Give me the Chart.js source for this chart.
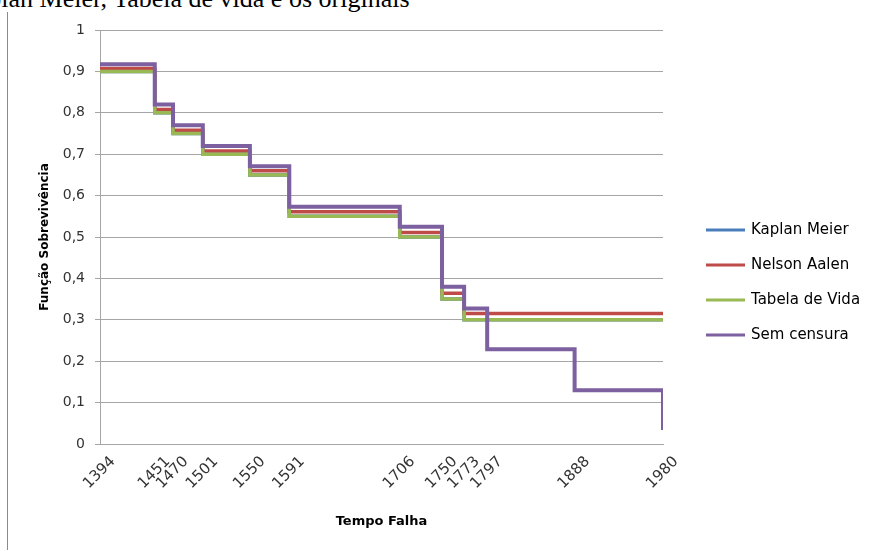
<!DOCTYPE html>
<html>
<head>
<meta charset="utf-8">
<script src="https://cdn.jsdelivr.net/npm/chart.js@4"></script>
<style>
  html, body { margin: 0; padding: 0; background: #fff; width: 871px; height: 550px; overflow: hidden; }
  #caption { position: absolute; left: -42px; top: -14px; font-family: "Liberation Serif", serif; font-size: 26px; line-height: 26px; white-space: nowrap; color: #000; }
  #frame { position: absolute; left: 7px; top: 12px; width: 1px; height: 538px; background: #8a8a8a; }
  #wrap { position: absolute; left: 0; top: 0; width: 871px; height: 550px; }
</style>
</head>
<body>
<div id="caption">Kaplan Meier, Tabela de vida e os originais</div>
<div id="frame"></div>
<div id="wrap"><canvas id="c" width="871" height="550"></canvas></div>
<script>
// Failure times (also used as the x-axis tick labels)
const failTimes = [1394, 1451, 1470, 1501, 1550, 1591, 1706, 1750, 1773, 1797, 1888, 1980];

// Estimators with censoring: times where the curve changes, last point closes the tail
const censTimes = [1394, 1451, 1470, 1501, 1550, 1591, 1706, 1750, 1773, 1980];
const kaplanMeier = [0.90, 0.80, 0.75, 0.70, 0.65, 0.55, 0.50, 0.35, 0.30, 0.30];
const nelsonAalen = [0.907, 0.808, 0.758, 0.708, 0.66, 0.561, 0.511, 0.364, 0.315, 0.315];
const tabelaVida  = [0.90, 0.80, 0.75, 0.70, 0.65, 0.55, 0.50, 0.35, 0.30, 0.30];

// Survival ignoring censoring
const semCensura = [0.917, 0.82, 0.77, 0.72, 0.671, 0.573, 0.525, 0.38, 0.327, 0.229, 0.13, 0.034];

const xTicks = failTimes;
const yTicks = [0, 0.1, 0.2, 0.3, 0.4, 0.5, 0.6, 0.7, 0.8, 0.9, 1];

function pairs(xs, ys) { return xs.map((x, i) => ({ x: x, y: ys[i] })); }

// Legend drawn to the right of the plot: a short coloured bar and the series name
const sideLegend = {
  id: 'sideLegend',
  afterDraw(chart, args, opts) {
    const ctx = chart.ctx;
    ctx.save();
    ctx.font = '15px "DejaVu Sans"';
    ctx.textBaseline = 'middle';
    ctx.textAlign = 'left';
    chart.data.datasets.forEach((ds, i) => {
      const y = opts.top + i * opts.step;
      ctx.fillStyle = ds.borderColor;
      ctx.fillRect(opts.x, y - 1.5, opts.barLength, 3);
      ctx.fillStyle = '#000';
      ctx.fillText(ds.label, opts.x + opts.barLength + 6, y);
    });
    ctx.restore();
  }
};

// Later series are painted over earlier ones (higher order = painted first)
new Chart(document.getElementById('c'), {
  type: 'line',
  data: {
    datasets: [
      { label: 'Kaplan Meier',   data: pairs(censTimes, kaplanMeier), borderColor: '#4A7EBB', backgroundColor: '#4A7EBB', borderWidth: 3.5, order: 4 },
      { label: 'Nelson Aalen',   data: pairs(censTimes, nelsonAalen), borderColor: '#BE4B48', backgroundColor: '#BE4B48', borderWidth: 3.5, order: 3 },
      { label: 'Tabela de Vida', data: pairs(censTimes, tabelaVida),  borderColor: '#98B954', backgroundColor: '#98B954', borderWidth: 3.5, order: 2 },
      { label: 'Sem censura',    data: pairs(failTimes, semCensura),  borderColor: '#7D60A0', backgroundColor: '#7D60A0', borderWidth: 4, order: 1 }
    ]
  },
  options: {
    responsive: false,
    animation: false,
    layout: { padding: { left: 34, top: 30, right: 208, bottom: 17 } },
    elements: {
      point: { radius: 0, hoverRadius: 0 },
      line: { tension: 0, fill: false, stepped: true }
    },
    plugins: {
      legend: { display: false },
      tooltip: { enabled: false },
      sideLegend: { x: 706, top: 230, step: 35, barLength: 39 }
    },
    scales: {
      x: {
        type: 'linear',
        min: xTicks[0],
        max: xTicks[xTicks.length - 1],
        afterBuildTicks: s => { s.ticks = xTicks.map(v => ({ value: v })); },
        afterFit: s => { s.height = 89; },
        grid: { display: false, drawTicks: false },
        border: { color: '#a5a5a5' },
        ticks: {
          autoSkip: false, minRotation: 45, maxRotation: 45, labelOffset: 13, padding: 9,
          font: { family: 'DejaVu Sans', size: 15 }, color: '#333',
          callback: v => String(v)
        },
        title: { display: true, text: 'Tempo Falha', color: '#000', font: { family: 'DejaVu Sans', size: 13, weight: 'bold' } }
      },
      y: {
        min: 0,
        max: 1,
        afterBuildTicks: s => { s.ticks = yTicks.map(v => ({ value: v })); },
        afterFit: s => { s.width = 66; },
        grid: { color: '#a5a5a5', tickLength: 5 },
        border: { color: '#a5a5a5' },
        ticks: {
          padding: 10, font: { family: 'DejaVu Sans', size: 14 }, color: '#333',
          callback: v => (v === 0 || v === 1) ? String(v) : v.toFixed(1).replace('.', ',')
        },
        title: { display: true, text: 'Função Sobrevivência', color: '#000', font: { family: 'DejaVu Sans', size: 12, weight: 'bold' } }
      }
    }
  },
  plugins: [sideLegend]
});
</script>
</body>
</html>
